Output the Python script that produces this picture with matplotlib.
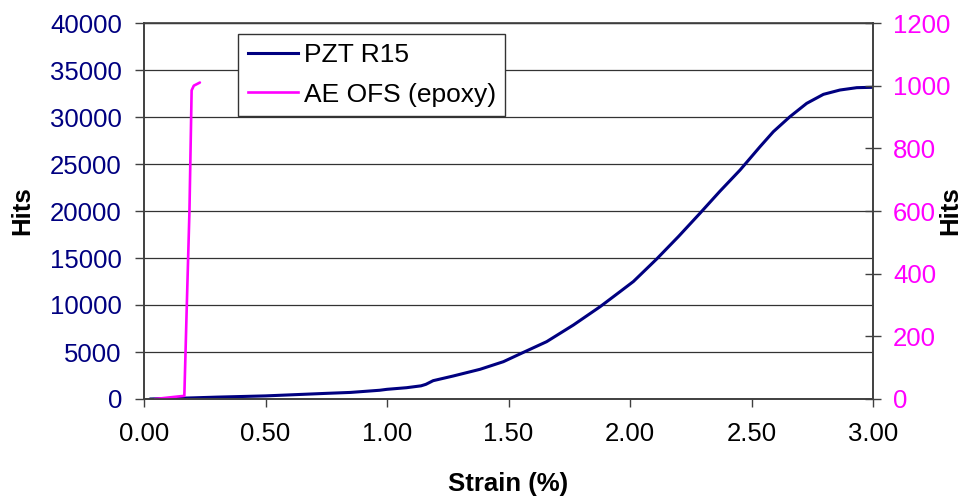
import matplotlib
matplotlib.use("Agg")
import matplotlib.pyplot as plt
from matplotlib.lines import Line2D

plt.rcParams['font.family'] = ['Liberation Sans', 'DejaVu Sans']

# PZT R15 (left axis)
pzt_strain = [0.025, 0.10, 0.20, 0.30, 0.50, 0.75, 0.85, 0.97, 1.00, 1.08, 1.14,
              1.16, 1.19, 1.273, 1.383, 1.479, 1.547, 1.657, 1.767, 1.877, 1.959,
              2.014, 2.11, 2.20, 2.288, 2.37, 2.453, 2.535, 2.590, 2.658, 2.727,
              2.796, 2.864, 2.933, 3.00]
pzt_hits = [0, 50, 120, 200, 330, 600, 700, 930, 1030, 1200, 1400,
            1560, 1950, 2450, 3160, 3970, 4790, 6100, 7870, 9820, 11420,
            12500, 14900, 17300, 19760, 22100, 24360, 26840, 28440, 30030, 31450,
            32410, 32870, 33120, 33160]

# AE OFS (epoxy) (right axis)
ofs_strain = [0.045, 0.14, 0.166, 0.176, 0.187, 0.196, 0.205, 0.23]
ofs_hits = [0, 8, 10, 295, 599, 985, 1000, 1010]

x_ticks = [0.0, 0.5, 1.0, 1.5, 2.0, 2.5, 3.0]
x_ticklabels = ["0.00", "0.50", "1.00", "1.50", "2.00", "2.50", "3.00"]
left_ticks = [0, 5000, 10000, 15000, 20000, 25000, 30000, 35000, 40000]
right_ticks = [0, 200, 400, 600, 800, 1000, 1200]

NAVY = '#000080'
MAG = '#FF00FF'
AXC = '#404040'
FS = 18.5

fig = plt.figure(figsize=(9.65, 4.98), dpi=100)
ax = fig.add_axes([144/965, 1-399/498, 729/965, 376/498])
ax2 = ax.twinx()

ax.plot(pzt_strain, pzt_hits, color=NAVY, lw=2.2, solid_capstyle='round',
        solid_joinstyle='round')
ax2.plot(ofs_strain, ofs_hits, color=MAG, lw=1.9, solid_capstyle='round',
         solid_joinstyle='round')

ax.set_xlim(0, 3)
ax.set_ylim(0, 40000)
ax2.set_ylim(0, 1200)

ax.set_xticks(x_ticks)
ax.set_xticklabels(x_ticklabels)
ax.set_yticks(left_ticks)
ax.set_yticklabels([str(v) for v in left_ticks])
ax2.set_yticks(right_ticks)
ax2.set_yticklabels([str(v) for v in right_ticks])

ax.yaxis.grid(True, color='#333333', lw=0.9)
ax.set_axisbelow(True)

for a in (ax, ax2):
    for s in a.spines.values():
        s.set_color(AXC)
        s.set_linewidth(1.2)
ax.spines['top'].set_linewidth(0.9)
ax.spines['top'].set_color('#333333')

ax.tick_params(axis='x', direction='out', length=5.8, width=1, color=AXC,
               labelsize=FS, labelcolor='black', pad=10.5)
ax.tick_params(axis='y', direction='out', length=6.5, width=1, color=AXC,
               labelsize=FS, labelcolor=NAVY, pad=9.4)
ax2.tick_params(axis='y', direction='inout', length=12.2, width=1, color=AXC,
                labelsize=FS, labelcolor=MAG, pad=8.3)

fig.text(22/965, 1-211/498, 'Hits', rotation=90, ha='center', va='center',
         fontsize=FS, fontweight='bold')
fig.text(950/965, 1-211/498, 'Hits', rotation=90, ha='center', va='center',
         fontsize=FS, fontweight='bold')
fig.text(508.5/965, 1-484/498, 'Strain (%)', ha='center', va='center',
         fontsize=FS, fontweight='bold')

handles = [Line2D([], [], color=NAVY, lw=2.2), Line2D([], [], color=MAG, lw=1.9)]
leg = ax2.legend(handles, ['PZT R15', 'AE OFS (epoxy)'], loc='upper left',
                 bbox_to_anchor=(0.1294, 0.9707), borderaxespad=0,
                 fontsize=19, handlelength=1.9, handletextpad=0.23,
                 borderpad=0.35, labelspacing=0.58, fancybox=False,
                 framealpha=1, edgecolor='#333333')
leg.get_frame().set_linewidth(1.0)

fig.savefig('out.png', dpi=100)
